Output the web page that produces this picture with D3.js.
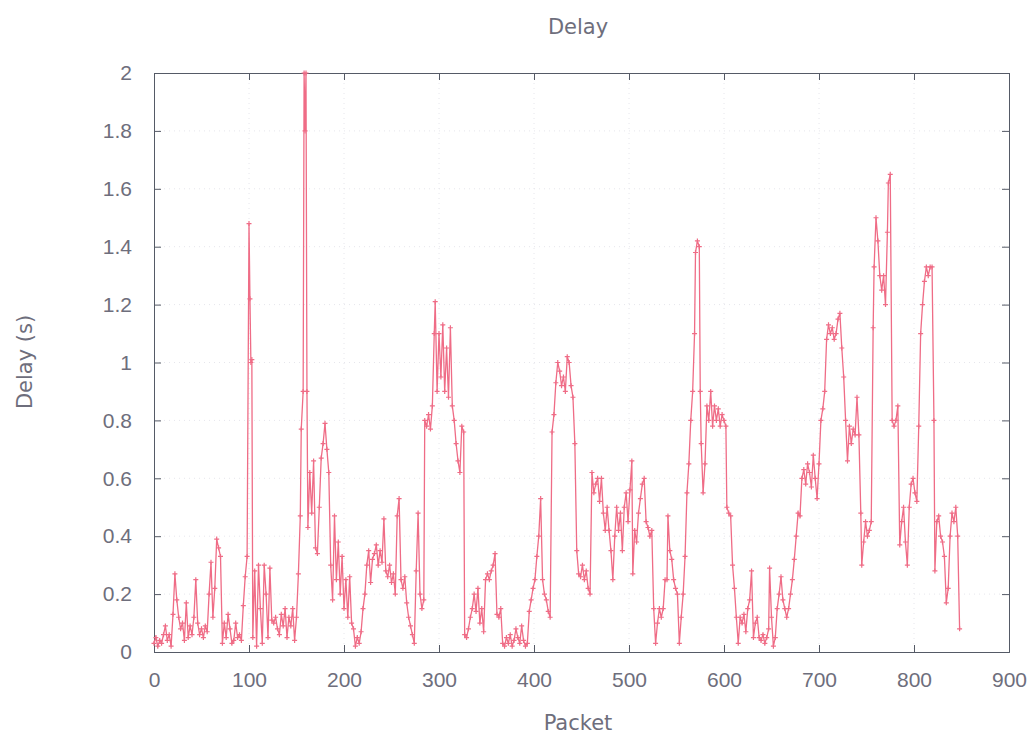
<!DOCTYPE html>
<html lang="en">
<head>
  <meta charset="UTF-8">
  <title>Delay</title>
  <script src="https://d3js.org/d3.v7.min.js"></script>
  <style>
    body { margin: 0; background: #fff; }
    svg { display: block; font-family: "DejaVu Sans", sans-serif; }
    .tick text { fill: #6e6e7c; font-size: 21px; }
    .label { fill: #6e6e7c; font-size: 21px; }
  </style>
</head>
<body>
  <div id="chart"></div>
  <script>
    // packet number and delay (s)
    const packets = [
      0,2,4,6,8,10,12,14,16,18,20,22,24,26,28,30,32,34,36,38,40,42,44,46,48,50,52,54,56,58,
      60,62,64,66,68,70,72,74,76,78,80,82,84,86,88,90,92,94,96,98,100,101,102,103,104,106,108,110,112,114,
      116,118,120,122,124,126,128,130,132,134,136,138,140,142,144,146,148,150,152,154,155,157,158,159,160,161,162,164,166,168,
      170,172,174,176,178,180,182,184,186,188,190,192,194,196,198,200,202,204,206,208,210,212,214,216,218,220,222,224,226,228,
      230,232,234,236,238,240,242,244,246,248,250,252,254,256,258,260,262,264,266,268,270,272,274,276,278,280,282,284,285,287,
      289,291,293,295,296,298,300,302,304,306,308,310,312,314,316,318,320,322,324,326,327,329,331,333,335,337,339,341,343,345,
      347,349,351,353,355,357,359,361,363,365,367,369,371,373,375,377,379,381,383,385,387,389,391,393,395,397,399,401,403,405,
      407,409,411,413,415,417,419,421,423,425,427,429,431,433,435,437,439,441,443,445,447,449,451,453,455,457,459,461,463,465,
      467,469,471,473,475,477,479,481,483,485,487,489,491,493,495,497,499,501,503,504,506,508,510,512,514,516,518,520,522,524,
      526,528,530,532,534,536,538,540,541,543,545,547,549,551,553,555,557,559,561,563,565,567,569,570,572,574,575,576,578,580,
      582,584,586,588,590,592,594,596,598,600,602,603,605,607,609,611,613,615,617,619,621,623,625,627,629,631,633,635,637,639,
      641,643,645,647,648,650,652,654,656,658,660,662,664,666,668,670,672,674,676,678,680,682,684,686,688,690,692,694,696,698,
      700,702,704,706,708,710,712,714,716,718,720,722,724,726,728,730,732,734,736,738,740,742,744,745,747,749,751,753,755,757,
      758,760,762,764,766,768,770,772,773,775,777,779,781,783,785,787,789,791,793,795,797,799,801,803,805,807,809,811,813,815,
      817,819,821,822,824,826,828,830,832,834,836,838,840,842,844,846,848
    ];
    const delays = [
      0.03,0.05,0.02,0.04,0.03,0.06,0.09,0.04,0.06,0.02,0.13,0.27,0.18,0.12,0.08,0.10,0.04,0.17,0.05,0.09,0.06,0.12,0.25,0.10,0.06,0.08,0.05,0.09,0.07,0.20,
      0.31,0.12,0.22,0.39,0.36,0.33,0.03,0.10,0.05,0.13,0.08,0.03,0.04,0.10,0.05,0.06,0.04,0.16,0.26,0.33,1.48,1.22,1.00,1.01,0.05,0.28,0.02,0.30,0.15,0.03,
      0.30,0.20,0.05,0.29,0.11,0.10,0.12,0.08,0.06,0.13,0.09,0.15,0.05,0.12,0.09,0.15,0.04,0.12,0.27,0.47,0.77,0.90,2.00,1.80,2.00,0.90,0.43,0.62,0.48,0.66,
      0.36,0.34,0.50,0.67,0.72,0.79,0.70,0.62,0.30,0.18,0.47,0.25,0.38,0.20,0.33,0.15,0.25,0.12,0.26,0.10,0.08,0.02,0.05,0.03,0.07,0.15,0.20,0.30,0.35,0.24,
      0.32,0.34,0.37,0.30,0.35,0.31,0.46,0.28,0.26,0.30,0.24,0.27,0.20,0.47,0.53,0.25,0.22,0.26,0.17,0.12,0.09,0.06,0.03,0.28,0.48,0.20,0.15,0.18,0.80,0.78,
      0.82,0.77,0.85,1.10,1.21,0.90,1.10,0.95,1.13,0.90,1.05,0.88,1.12,0.85,0.80,0.72,0.66,0.62,0.78,0.76,0.06,0.05,0.08,0.12,0.15,0.20,0.14,0.22,0.10,0.15,
      0.07,0.25,0.27,0.25,0.28,0.30,0.34,0.13,0.12,0.15,0.03,0.02,0.05,0.03,0.06,0.02,0.04,0.08,0.05,0.03,0.09,0.04,0.02,0.03,0.14,0.18,0.22,0.25,0.33,0.40,
      0.53,0.25,0.20,0.18,0.14,0.12,0.76,0.82,0.93,1.00,0.97,0.92,0.95,0.90,1.02,1.00,0.92,0.88,0.72,0.35,0.27,0.26,0.30,0.25,0.28,0.22,0.20,0.62,0.55,0.58,
      0.60,0.52,0.60,0.48,0.42,0.50,0.42,0.35,0.25,0.40,0.50,0.42,0.48,0.35,0.50,0.55,0.45,0.56,0.66,0.27,0.42,0.38,0.48,0.53,0.58,0.60,0.45,0.43,0.40,0.42,
      0.15,0.03,0.10,0.15,0.12,0.15,0.25,0.25,0.47,0.35,0.32,0.25,0.22,0.20,0.03,0.12,0.20,0.33,0.55,0.65,0.80,0.90,1.10,1.38,1.42,1.40,0.90,0.72,0.55,0.65,
      0.85,0.80,0.90,0.78,0.85,0.80,0.84,0.78,0.82,0.80,0.78,0.50,0.48,0.47,0.30,0.22,0.12,0.03,0.12,0.10,0.13,0.07,0.15,0.18,0.28,0.05,0.10,0.12,0.05,0.04,
      0.06,0.03,0.05,0.08,0.29,0.12,0.02,0.05,0.15,0.20,0.26,0.18,0.15,0.12,0.15,0.20,0.25,0.32,0.40,0.48,0.47,0.60,0.63,0.58,0.65,0.62,0.57,0.68,0.60,0.53,
      0.65,0.80,0.84,0.90,1.08,1.13,1.10,1.12,1.08,1.10,1.15,1.17,1.05,0.95,0.80,0.66,0.78,0.72,0.77,0.75,0.88,0.75,0.48,0.30,0.38,0.45,0.40,0.42,0.45,1.12,
      1.33,1.50,1.42,1.30,1.25,1.30,1.20,1.45,1.62,1.65,0.80,0.78,0.80,0.85,0.37,0.45,0.50,0.38,0.30,0.50,0.58,0.60,0.55,0.52,0.78,1.10,1.20,1.28,1.33,1.30,
      1.33,1.33,0.80,0.28,0.45,0.47,0.40,0.38,0.33,0.17,0.22,0.40,0.48,0.45,0.50,0.40,0.08
    ];
    const xTicks = [0, 100, 200, 300, 400, 500, 600, 700, 800, 900];
    const yTicks = [0, 0.2, 0.4, 0.6, 0.8, 1, 1.2, 1.4, 1.6, 1.8, 2];

    const data = packets.map((p, i) => ({ p: p, d: delays[i] }));

    const width = 1035;
    const height = 738;
    const margin = { top: 73, right: 26, bottom: 86, left: 154 };
    const innerWidth = width - margin.left - margin.right;
    const innerHeight = height - margin.top - margin.bottom;

    const svg = d3.select('#chart')
      .append('svg')
      .attr('width', width)
      .attr('height', height);

    const g = svg.append('g')
      .attr('transform', `translate(${margin.left}, ${margin.top})`);

    const x = d3.scaleLinear().domain([0, 900]).range([0, innerWidth]);
    const y = d3.scaleLinear().domain([0, 2]).range([innerHeight, 0]);

    // faint grid
    g.append('g')
      .selectAll('line')
      .data(yTicks.slice(1, -1))
      .join('line')
      .attr('x1', 0).attr('x2', innerWidth)
      .attr('y1', d => y(d)).attr('y2', d => y(d))
      .attr('stroke', '#e6e6ec').attr('stroke-dasharray', '1,4');
    g.append('g')
      .selectAll('line')
      .data(xTicks.slice(1, -1))
      .join('line')
      .attr('y1', 0).attr('y2', innerHeight)
      .attr('x1', d => x(d)).attr('x2', d => x(d))
      .attr('stroke', '#e6e6ec').attr('stroke-dasharray', '1,4');

    // axes, ticks pointing inward like gnuplot
    const fmt = d => String(+d.toFixed(1));
    g.append('g')
      .attr('transform', `translate(0, ${innerHeight})`)
      .call(d3.axisBottom(x).tickValues(xTicks).tickSize(-7).tickPadding(20).tickFormat(d3.format('d')));
    g.append('g')
      .attr('class', 'mirror')
      .call(d3.axisTop(x).tickValues(xTicks).tickSize(-7).tickFormat(''));
    g.append('g')
      .call(d3.axisLeft(y).tickValues(yTicks).tickSize(-7).tickPadding(22).tickFormat(fmt));
    g.append('g')
      .attr('class', 'mirror')
      .attr('transform', `translate(${innerWidth}, 0)`)
      .call(d3.axisRight(y).tickValues(yTicks).tickSize(-7).tickFormat(''));
    g.selectAll('.mirror text').remove();
    g.selectAll('.domain').attr('stroke', '#555a66');
    g.selectAll('.tick line').attr('stroke', '#555a66');

    // data line
    const line = d3.line()
      .x(d => x(d.p))
      .y(d => y(d.d));

    g.append('path')
      .datum(data)
      .attr('fill', 'none')
      .attr('stroke', '#ef6c86')
      .attr('stroke-width', 1.3)
      .attr('d', line);

    // small cross markers
    g.append('g')
      .selectAll('path')
      .data(data)
      .join('path')
      .attr('transform', d => `translate(${x(d.p)}, ${y(d.d)})`)
      .attr('d', 'M-2.5,0H2.5M0,-2.5V2.5')
      .attr('stroke', '#ef6c86')
      .attr('stroke-width', 1.2);

    // titles
    svg.append('text')
      .attr('class', 'label')
      .attr('text-anchor', 'middle')
      .attr('x', 578).attr('y', 34)
      .text('Delay');
    svg.append('text')
      .attr('class', 'label')
      .attr('text-anchor', 'middle')
      .attr('x', 578).attr('y', 730)
      .text('Packet');
    svg.append('text')
      .attr('class', 'label')
      .attr('text-anchor', 'middle')
      .attr('transform', 'rotate(-90)')
      .attr('x', -362).attr('y', 32)
      .text('Delay (s)');
  </script>
</body>
</html>
